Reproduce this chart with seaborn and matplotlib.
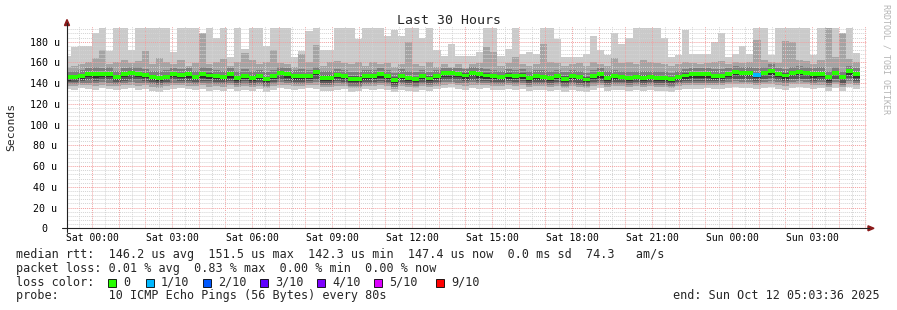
import numpy as np
import pandas as pd
import matplotlib
matplotlib.use("Agg")
import matplotlib.pyplot as plt
import matplotlib.dates as mdates
from matplotlib.ticker import MultipleLocator, FuncFormatter
from matplotlib.patches import Rectangle, Polygon
from matplotlib.lines import Line2D
import seaborn as sns

# 16 minute bins, first one starts before the left edge of the graph
bin_start = "2025-10-10 22:56"
graph_start = "2025-10-10 23:03:36"
graph_end = "2025-10-12 05:03:36"

C = 193.5  # smoke clipped at the top of the graph

# median rtt per bin (microseconds)
median_rtt = [
    145.5, 145.8, 146.8, 149.0, 148.4, 149.0, 149.0, 145.8, 149.0, 150.0, 149.0, 147.7, 145.8, 144.8, 145.8, 149.0,
    147.7, 148.4, 145.8, 148.4, 147.4, 146.5, 145.8, 148.4, 145.2, 147.1, 145.2, 147.1, 143.8, 146.8, 149.7, 148.4,
    146.5, 146.5, 147.1, 150.3, 145.2, 145.2, 148.1, 146.5, 144.2, 144.2, 146.5, 146.8, 148.4, 146.5, 143.2, 146.8,
    144.8, 143.9, 146.5, 144.5, 146.8, 149.4, 149.4, 149.0, 147.4, 149.7, 148.4, 147.4, 146.8, 145.8, 147.4, 146.8,
    147.4, 145.2, 146.5, 145.8, 145.2, 146.8, 144.2, 146.8, 145.8, 143.5, 146.5, 148.4, 145.2, 146.5, 145.8, 145.2,
    145.8, 145.2, 145.8, 145.2, 145.2, 143.9, 145.8, 147.4, 148.4, 148.4, 148.4, 147.1, 147.1, 148.7, 150.6, 150.0,
    149.7, 147.7, 150.0, 151.5, 149.0, 147.4, 149.7, 150.3, 149.7, 148.4, 149.0, 145.5, 149.7, 145.8, 151.3, 148.4,
]

# lost pings (out of 10) per bin, only non-zero bins
lost_pings = {97: 1}

# sorted ping ranks per bin (p1 = fastest, p10 = slowest)
p10 = [
    166, 175, 176, 176, 188, C, 171, C, C, 172, C, C, C, C, C, 170,
    C, C, C, 188, C, 184, C, 165, C, 173, C, C, 176, C, C, C,
    165, 171, 190, C, 172, 172, C, C, C, 183, C, C, C, 185, 191, 185,
    C, C, 184, C, 172, 166, 178, 166, 166, 166, 170, C, C, 166, 173, C,
    168, 170, 168, C, C, 183, 165, 165, 165, 168, 185, 172, 167, 188, 178, 184,
    C, C, C, C, 184, 165, 167, 191, 168, 168, 168, 180, 188, 165, 168, 176,
    168, C, C, 167, C, C, C, C, C, 167, C, C, C, 188, C, 169,
]
p9 = [
    156, 157, 158, 160, 164, 172, 158, 160, 162, 159, 161, 171, 158, 164, 160, 158,
    162, 157, 159, 188, 158, 160, 163, 157, 160, 169, 162, 158, 160, 172, 159, 158,
    156, 168, 160, 177, 157, 160, 161, 159, 158, 160, 157, 160, 158, 159, 156, 158,
    180, 158, 157, 160, 156, 158, 156, 158, 155, 158, 159, 175, 170, 157, 159, 165,
    158, 157, 158, 178, 160, 159, 157, 158, 159, 157, 160, 158, 157, 164, 159, 160,
    158, 162, 160, 159, 158, 157, 158, 160, 159, 158, 159, 160, 161, 158, 160, 159,
    160, 182, 162, 160, 159, 181, 180, 162, 161, 158, 162, 193.5, 165, 188, 163, 160,
]
p8 = [
    152, 152, 153, 155, 156, 155, 156, 152, 155, 156, 156, 154, 152, 152, 153, 155,
    154, 155, 152, 156, 155, 153, 152, 155, 152, 154, 152, 153, 151, 153, 156, 155,
    153, 154, 153, 156, 152, 152, 154, 153, 151, 151, 153, 153, 155, 153, 150, 154,
    152, 151, 153, 151, 153, 155, 155, 155, 154, 156, 155, 154, 153, 152, 154, 153,
    154, 152, 153, 153, 152, 153, 151, 153, 152, 150, 153, 155, 152, 153, 152, 152,
    152, 152, 152, 152, 152, 150, 152, 154, 155, 155, 155, 154, 154, 155, 157, 156,
    156, 155, 156, 158, 155, 154, 156, 157, 156, 155, 156, 152, 156, 152, 157, 155,
]
p7 = [
    148, 148, 149, 151, 151, 151, 151, 148, 151, 152, 151, 150, 148, 147, 148, 151,
    150, 151, 148, 151, 150, 149, 148, 151, 148, 149, 148, 149, 146, 149, 152, 151,
    149, 149, 149, 152, 148, 148, 150, 149, 147, 147, 149, 149, 151, 149, 146, 149,
    147, 146, 149, 147, 149, 152, 152, 151, 150, 152, 151, 150, 149, 148, 150, 149,
    150, 148, 149, 148, 148, 149, 147, 149, 148, 146, 149, 151, 148, 149, 148, 148,
    148, 148, 148, 148, 148, 146, 148, 150, 151, 151, 151, 149, 149, 151, 153, 152,
    152, 150, 152, 154, 151, 150, 152, 153, 152, 151, 151, 148, 152, 148, 153, 151,
]
p6 = [
    146, 147, 148, 150, 149, 150, 150, 147, 150, 151, 150, 149, 147, 146, 147, 150,
    149, 149, 147, 149, 148, 147, 147, 149, 146, 148, 146, 148, 145, 148, 151, 149,
    147, 147, 148, 151, 146, 146, 149, 147, 145, 145, 147, 148, 149, 147, 144, 148,
    146, 145, 147, 146, 148, 150, 150, 150, 148, 151, 149, 148, 148, 147, 148, 148,
    148, 146, 147, 147, 146, 148, 145, 148, 147, 145, 147, 149, 146, 147, 147, 146,
    147, 146, 147, 146, 146, 145, 147, 148, 149, 149, 149, 148, 148, 150, 151, 151,
    151, 149, 151, 152, 150, 148, 151, 151, 151, 149, 150, 146, 151, 147, 152, 149,
]
p5 = [
    142, 143, 144, 146, 145, 146, 146, 143, 146, 147, 146, 145, 143, 142, 143, 146,
    145, 145, 143, 145, 144, 143, 143, 145, 142, 144, 142, 144, 141, 144, 147, 145,
    143, 143, 144, 147, 142, 142, 145, 143, 141, 141, 143, 144, 145, 143, 140, 144,
    142, 141, 143, 142, 144, 146, 146, 146, 144, 147, 145, 144, 144, 143, 144, 144,
    144, 142, 143, 143, 142, 144, 141, 144, 143, 141, 143, 145, 142, 143, 143, 142,
    143, 142, 143, 142, 142, 141, 143, 144, 145, 145, 145, 144, 144, 146, 147, 147,
    147, 145, 147, 148, 146, 144, 147, 147, 147, 145, 146, 142, 147, 143, 148, 145,
]
p4 = [
    141, 141, 142, 143, 142, 143, 143, 141, 142, 143, 143, 142, 141, 140, 141, 143,
    142, 142, 141, 142, 142, 141, 141, 142, 140, 142, 140, 141, 139, 141, 143, 142,
    141, 141, 142, 143, 140, 140, 142, 141, 139, 139, 141, 141, 142, 141, 138, 141,
    140, 139, 141, 140, 141, 143, 143, 143, 142, 143, 142, 142, 141, 141, 142, 141,
    142, 140, 141, 141, 140, 141, 139, 141, 140, 139, 141, 142, 140, 141, 141, 140,
    141, 140, 141, 140, 140, 139, 141, 142, 142, 142, 142, 142, 142, 143, 144, 144,
    144, 142, 144, 145, 143, 142, 144, 144, 144, 142, 143, 140, 144, 140, 145, 142,
]
p3 = [
    139, 139, 140, 140, 140, 141, 140, 139, 140, 141, 140, 140, 139, 138, 139, 140,
    140, 140, 139, 140, 139, 139, 139, 140, 138, 139, 138, 139, 137, 139, 141, 140,
    139, 139, 140, 141, 138, 138, 140, 139, 137, 137, 139, 139, 140, 139, 136, 139,
    138, 137, 139, 138, 139, 141, 141, 140, 140, 141, 140, 140, 139, 139, 140, 139,
    140, 138, 139, 139, 138, 139, 137, 139, 138, 137, 139, 140, 138, 139, 139, 138,
    139, 138, 139, 138, 138, 137, 139, 140, 140, 140, 140, 140, 140, 141, 142, 141,
    141, 140, 141, 142, 141, 140, 141, 142, 141, 140, 141, 138, 141, 138, 142, 140,
]
p2 = [
    137, 137, 138, 138, 137, 138, 137, 137, 138, 138, 137, 138, 136, 135, 137, 138,
    138, 137, 137, 138, 136, 137, 136, 138, 136, 137, 136, 137, 135, 137, 138, 138,
    137, 137, 138, 138, 136, 136, 137, 137, 135, 135, 137, 137, 138, 137, 134, 137,
    136, 135, 137, 136, 137, 138, 139, 138, 137, 138, 138, 138, 137, 137, 138, 137,
    138, 136, 137, 137, 136, 137, 135, 137, 136, 135, 137, 138, 136, 137, 137, 136,
    137, 136, 137, 136, 136, 135, 137, 138, 138, 138, 138, 138, 138, 139, 139, 139,
    139, 138, 139, 139, 138, 137, 139, 139, 139, 138, 138, 136, 139, 136, 139, 138,
]
p1 = [
    134, 133, 135, 134, 133, 135, 134, 133, 134, 135, 133, 134, 132, 131, 133, 134,
    135, 134, 133, 134, 132, 133, 132, 134, 132, 133, 132, 134, 131, 133, 135, 134,
    133, 134, 135, 134, 132, 132, 133, 134, 131, 132, 134, 133, 134, 133, 131, 133,
    132, 131, 133, 132, 134, 135, 136, 134, 133, 135, 134, 135, 133, 133, 134, 133,
    134, 132, 133, 133, 132, 133, 131, 133, 132, 131, 133, 135, 132, 133, 133, 132,
    133, 132, 133, 132, 132, 131, 133, 134, 134, 134, 135, 134, 134, 135, 136, 135,
    135, 134, 135, 136, 134, 133, 135, 136, 135, 134, 135, 132, 135, 132, 136, 134,
]

loss_labels = ["0", "1/10", "2/10", "3/10", "4/10", "5/10", "9/10"]
loss_colors = ["#26ff00", "#00b8ff", "#0059ff", "#5e00ff", "#7e00ff", "#dd00ff", "#ff0000"]
smoke_colors = ["#cacaca", "#a4a4a4", "#7e7e7e", "#585858", "#323232"]

legend_lines = [
    "median rtt:  146.2 us avg  151.5 us max  142.3 us min  147.4 us now  0.0 ms sd  74.3   am/s",
    "packet loss: 0.01 % avg  0.83 % max  0.00 % min  0.00 % now",
    "loss color:",
    "probe:       10 ICMP Echo Pings (56 Bytes) every 80s",
]

W, H = 897, 310


def fx(x):
    return x / W


def fy(y):
    return 1 - y / H


sns.set_style("white")
plt.rcParams["font.family"] = ["DejaVu Sans Mono"]

fig = plt.figure(figsize=(W / 100, H / 100), dpi=100)
ax = fig.add_axes([fx(67), fy(228.3), 800 / W, (228.3 - 25.5) / H])

t = mdates.date2num(pd.date_range(bin_start, periods=len(median_rtt), freq="16min"))
step = 16 / 1440
t_edges = np.append(t, t[-1] + step)


def ext(a):
    a = np.asarray(a, float)
    return np.append(a, a[-1])


bands = [(p1, p10), (p2, p9), (p3, p8), (p4, p7), (p5, p6)]
for (lo, hi), col in zip(bands, smoke_colors):
    ax.fill_between(t_edges, ext(lo), ext(hi), step="post", color=col, lw=0, zorder=1)

lost = np.array([lost_pings.get(i, 0) for i in range(len(median_rtt))])
bar_cols = [loss_colors[min(n, 6)] for n in lost]
med = np.asarray(median_rtt)
ax.bar(t, 3.8, bottom=med - 1.9, width=step, align="edge", color=bar_cols, lw=0, zorder=3)

ax.set_xlim(mdates.date2num(pd.Timestamp(graph_start)), mdates.date2num(pd.Timestamp(graph_end)))
ax.set_ylim(0, 195.6)

ax.xaxis.set_major_locator(mdates.HourLocator(interval=1))
ax.xaxis.set_minor_locator(mdates.MinuteLocator(byminute=[30]))


def xlab(v, pos):
    d = mdates.num2date(v)
    if d.hour % 3 == 0 and d.minute == 0:
        return d.strftime("%a %H:%M")
    return ""


ax.xaxis.set_major_formatter(FuncFormatter(xlab))
ax.yaxis.set_major_locator(MultipleLocator(20))
ax.yaxis.set_minor_locator(MultipleLocator(4))
ax.yaxis.set_major_formatter(FuncFormatter(lambda v, p: "0" if v == 0 else f"{int(v)} u"))

ax.set_axisbelow(False)
ax.grid(which="minor", color="#d4d4d4", linestyle=(0, (1, 1)), lw=0.7)
ax.grid(which="major", color="#f2a0a0", linestyle=(0, (1, 1)), lw=0.7)
ax.tick_params(axis="x", which="both", length=0, pad=3.5, labelsize=7, colors="#000000")
ax.tick_params(axis="y", which="both", length=0, pad=16, labelsize=7.2, colors="#000000")
for lab in ax.get_yticklabels():
    lab.set_horizontalalignment("center")
for s in ax.spines.values():
    s.set_visible(False)

# axes with arrow heads
fig.add_artist(Line2D([fx(62), fx(869)], [fy(228.3), fy(228.3)], color="#222222", lw=0.8))
fig.add_artist(Line2D([fx(67), fx(67)], [fy(232), fy(23)], color="#222222", lw=0.8))
fig.add_artist(Polygon([(fx(64.5), fy(25.5)), (fx(69.5), fy(25.5)), (fx(67), fy(19.5))],
                       closed=True, color="#8b1a1a", transform=fig.transFigure))
fig.add_artist(Polygon([(fx(868), fy(225.8)), (fx(868), fy(230.8)), (fx(874), fy(228.3))],
                       closed=True, color="#8b1a1a", transform=fig.transFigure))

fig.text(0.5, fy(20), "Last 30 Hours", ha="center", va="center", fontsize=9.5)
fig.text(fx(11), fy(127), "Seconds", rotation=90, ha="center", va="center", fontsize=8.2)
fig.text(fx(886), fy(4), "RRDTOOL / TOBI OETIKER", rotation=270, ha="center", va="top",
         fontsize=6, color="#b4b4b4")

for y, line in zip([254.5, 268.3, 282.3, 295.8], legend_lines):
    fig.text(fx(16), fy(y), line, ha="left", va="center", fontsize=8.5)
fig.text(fx(880), fy(295.8), "end: Sun Oct 12 05:03:36 2025", ha="right", va="center", fontsize=8.5)

box_x = [108, 146, 203, 260, 317, 374, 436]
for bx, lab, col in zip(box_x, loss_labels, loss_colors):
    fig.add_artist(Rectangle((fx(bx), fy(286.5)), 7.5 / W, 7.5 / H, transform=fig.transFigure,
                             facecolor=col, edgecolor="#000000", lw=0.6))
    fig.text(fx(bx + 15), fy(282.3), lab, ha="left", va="center", fontsize=8.5)

fig.savefig("out.png", dpi=100)
